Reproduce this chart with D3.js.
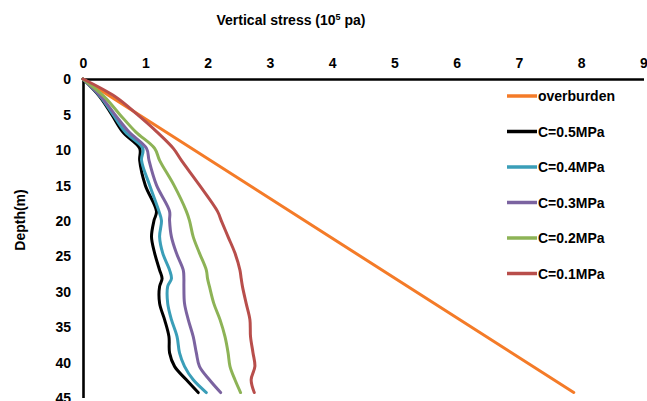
<!DOCTYPE html>
<html>
<head>
<meta charset="utf-8">
<script src="https://cdn.jsdelivr.net/npm/d3@7"></script>
<style>
    body { margin: 0; background: #fff; }
    svg { display: block; font-family: "Liberation Sans", Arial, sans-serif; font-weight: bold; }
</style>
</head>
<body>
<svg id="chart"></svg>
<script>
// depth (m) at which the stress curves were read
const depths = [0, 2.5, 5, 7.5, 9.8, 11.5, 15, 18.7, 20, 22.3, 24.6, 27, 28.2, 29.3, 31.7, 34, 36.4, 38.7, 40.6, 42.5, 44.3]

// vertical stress (10^5 pa) per cohesion
const c05 = [0, 0.27, 0.46, 0.64, 0.91, 0.91, 1.00, 1.18, 1.14, 1.10, 1.15, 1.23, 1.27, 1.23, 1.23, 1.31, 1.38, 1.39, 1.47, 1.66, 1.85]
const c04 = [0, 0.28, 0.48, 0.68, 0.96, 0.94, 1.07, 1.22, 1.26, 1.23, 1.28, 1.39, 1.42, 1.36, 1.36, 1.42, 1.51, 1.55, 1.63, 1.77, 1.98]
const c03 = [0, 0.29, 0.51, 0.74, 1.02, 1.06, 1.18, 1.39, 1.39, 1.42, 1.50, 1.61, 1.62, 1.62, 1.63, 1.69, 1.77, 1.82, 1.87, 2.03, 2.21]
const c02 = [0, 0.34, 0.59, 0.85, 1.15, 1.23, 1.46, 1.66, 1.71, 1.77, 1.87, 1.98, 2.00, 2.03, 2.10, 2.20, 2.28, 2.33, 2.36, 2.44, 2.53]
const c01 = [0, 0.52, 0.87, 1.19, 1.45, 1.58, 1.87, 2.16, 2.22, 2.33, 2.44, 2.52, 2.54, 2.56, 2.62, 2.68, 2.69, 2.73, 2.76, 2.70, 2.75]

const overburdenDepths = [0, 44.3]
const overburden = [0, 7.88]

const seriesNames = ['overburden', 'C=0.5MPa', 'C=0.4MPa', 'C=0.3MPa', 'C=0.2MPa', 'C=0.1MPa']
const seriesColors = ['#F47B28', '#000000', '#3A9EB8', '#7B63A0', '#8DB356', '#B84E4B']

const xTicks = [0, 1, 2, 3, 4, 5, 6, 7, 8, 9]
const yTicks = [0, 5, 10, 15, 20, 25, 30, 35, 40, 45]

const width = 647
const height = 401
const fontSize = '14px'

const svg = d3.select('#chart')
    .attr('width', width)
    .attr('height', height)

const xScale = d3.scaleLinear().domain([0, 9]).range([83, 643.5])
const yScale = d3.scaleLinear().domain([0, 45]).range([79, 397.5])

// Axes
const xAxis = d3.axisTop(xScale).tickValues(xTicks).tickSize(0).tickPadding(11)
const yAxis = d3.axisLeft(yScale).tickValues(yTicks).tickSize(0).tickPadding(12)

const xAxisGroup = svg.append('g')
    .attr('transform', `translate(0,${yScale(0)})`)
    .call(xAxis)
const yAxisGroup = svg.append('g')
    .attr('transform', `translate(${xScale(0)},0)`)
    .call(yAxis)

for (const g of [xAxisGroup, yAxisGroup]) {
    g.select('.domain').attr('stroke', '#000').attr('stroke-width', 2.6)
    g.selectAll('text')
        .attr('fill', '#000')
        .style('font-size', fontSize)
        .style('font-family', '"Liberation Sans", Arial, sans-serif')
        .style('font-weight', 'bold')
}
yAxisGroup.selectAll('text').attr('dy', '0.35em')

// Titles
const title = svg.append('text')
    .attr('x', 291)
    .attr('y', 25)
    .attr('text-anchor', 'middle')
    .style('font-size', fontSize)
title.append('tspan').text('Vertical stress (10')
title.append('tspan').text('5').attr('dy', -5).style('font-size', '9px')
title.append('tspan').text(' pa)').attr('dy', 5)

svg.append('text')
    .attr('transform', 'translate(25,220) rotate(-90)')
    .attr('text-anchor', 'middle')
    .style('font-size', fontSize)
    .text('Depth(m)')

// Lines
const line = d3.line()
    .x(d => xScale(d[0]))
    .y(d => yScale(d[1]))
    .curve(d3.curveCatmullRom.alpha(0.5))

const curves = [c05, c04, c03, c02, c01]
const lineData = [d3.zip(overburden, overburdenDepths)]
    .concat(curves.map(vals => d3.zip(vals, depths)))

svg.append('g')
    .selectAll('path')
    .data(lineData)
    .join('path')
    .attr('d', line)
    .attr('fill', 'none')
    .attr('stroke', (d, i) => seriesColors[i])
    .attr('stroke-width', 3)
    .attr('stroke-linejoin', 'round')
    .attr('stroke-linecap', 'round')

// Legend
const legend = svg.append('g')
    .selectAll('g')
    .data(seriesNames)
    .join('g')
    .attr('transform', (d, i) => `translate(507,${96 + i * 35.5})`)

legend.append('line')
    .attr('x1', 0)
    .attr('x2', 30)
    .attr('stroke', (d, i) => seriesColors[i])
    .attr('stroke-width', 3.5)

legend.append('text')
    .attr('x', 31)
    .attr('dy', '0.37em')
    .style('font-size', fontSize)
    .text(d => d)
</script>
</body>
</html>
